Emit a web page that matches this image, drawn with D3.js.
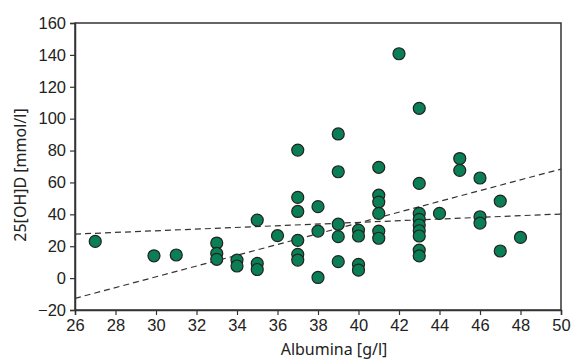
<!DOCTYPE html>
<html>
<head>
<meta charset="utf-8">
<script src="https://cdn.jsdelivr.net/npm/d3@7"></script>
<style>
    body { margin: 0; background: #fff; }
    svg { font-family: "Noto Sans", "Open Sans", sans-serif; }
</style>
</head>
<body>
<div id="chart"></div>
<script>
    // albumin values (g/l) and matching 25[OH]D values
    var albumin = [27, 29.9, 31,
        33, 33, 33,
        34, 34,
        35, 35, 35,
        36,
        37, 37, 37, 37, 37, 37,
        38, 38, 38,
        39, 39, 39, 39, 39,
        40, 40, 40, 40,
        41, 41, 41, 41, 41, 41,
        42,
        43, 43, 43, 43, 43, 43, 43, 43, 43,
        44,
        45, 45,
        46, 46, 46,
        47, 47,
        48];
    var vitD = [23, 14, 14.5,
        22, 15.5, 11.8,
        11.3, 7.6,
        36.4, 9.2, 5.4,
        26.6,
        80.3, 50.6, 41.8, 23.7, 14.9, 11.3,
        44.8, 29.5, 0.4,
        90.4, 66.7, 33.8, 26, 10.3,
        30.1, 26.4, 8.6, 5,
        69.5, 52, 47.7, 40.6, 29.5, 25,
        140.7,
        106.5, 59.4, 40.6, 36.8, 33.3, 29.7, 26.4, 17.6, 13.9,
        40.6,
        75, 67.6,
        62.8, 38.5, 34.5,
        48.3, 17,
        25.5];

    // dashed lines: [x, y] at both ends
    var lineUpper = [[26, 27.6], [50, 40.2]];
    var lineLower = [[26, -12.7], [50, 68.4]];

    var xTicks = [26, 28, 30, 32, 34, 36, 38, 40, 42, 44, 46, 48, 50];
    var yTicks = [-20, 0, 20, 40, 60, 80, 100, 120, 140, 160];

    var W = 571, H = 359;
    var margin = { top: 23, right: 10, bottom: 49, left: 75 };
    var width = W - margin.left - margin.right;
    var height = H - margin.top - margin.bottom;

    var svg = d3.select("#chart").append("svg")
        .attr("width", W)
        .attr("height", H);
    var g = svg.append("g")
        .attr("transform", "translate(" + margin.left + "," + margin.top + ")");

    var x = d3.scaleLinear().domain([26, 50]).range([0, width]);
    var y = d3.scaleLinear().domain([-20, 160]).range([height, 0]);

    // frame
    g.append("rect")
        .attr("x", 0).attr("y", 0)
        .attr("width", width).attr("height", height)
        .attr("fill", "none")
        .attr("stroke", "#333")
        .attr("stroke-width", 1.5);

    var xAxis = g.append("g")
        .attr("transform", "translate(0," + height + ")")
        .call(d3.axisBottom(x).tickValues(xTicks).tickSize(5).tickPadding(4).tickFormat(d3.format("d")));
    var yAxis = g.append("g")
        .call(d3.axisLeft(y).tickValues(yTicks).tickSize(5).tickPadding(4).tickFormat(d3.format("d")));

    [xAxis, yAxis].forEach(function (a) {
        a.select(".domain").attr("stroke", "#333").attr("stroke-width", 1.5);
        a.selectAll(".tick line").attr("stroke", "#333").attr("stroke-width", 1.2);
        a.selectAll("text").attr("fill", "#222").style("font-size", "16.5px");
    });

    // dashed regression lines
    var line = d3.line()
        .x(function (d) { return x(d[0]); })
        .y(function (d) { return y(d[1]); });
    [lineUpper, lineLower].forEach(function (l) {
        g.append("path")
            .attr("d", line(l))
            .attr("fill", "none")
            .attr("stroke", "#333")
            .attr("stroke-width", 1.2)
            .attr("stroke-dasharray", "6,4");
    });

    // points
    var pts = albumin.map(function (a, i) { return { x: a, y: vitD[i] }; });
    g.selectAll("circle")
        .data(pts)
        .enter()
        .append("circle")
        .attr("cx", function (d) { return x(d.x); })
        .attr("cy", function (d) { return y(d.y); })
        .attr("r", 6)
        .attr("fill", "#0a7f55")
        .attr("stroke", "#222")
        .attr("stroke-width", 1.2);

    // axis titles
    svg.append("text")
        .attr("x", 334)
        .attr("y", 355)
        .attr("text-anchor", "middle")
        .attr("fill", "#222")
        .style("font-size", "16px")
        .text("Albumina [g/l]");
    svg.append("text")
        .attr("transform", "translate(26,175) rotate(-90)")
        .attr("text-anchor", "middle")
        .attr("fill", "#222")
        .style("font-size", "16px")
        .text("25[OH]D [mmol/l]");
</script>
</body>
</html>
